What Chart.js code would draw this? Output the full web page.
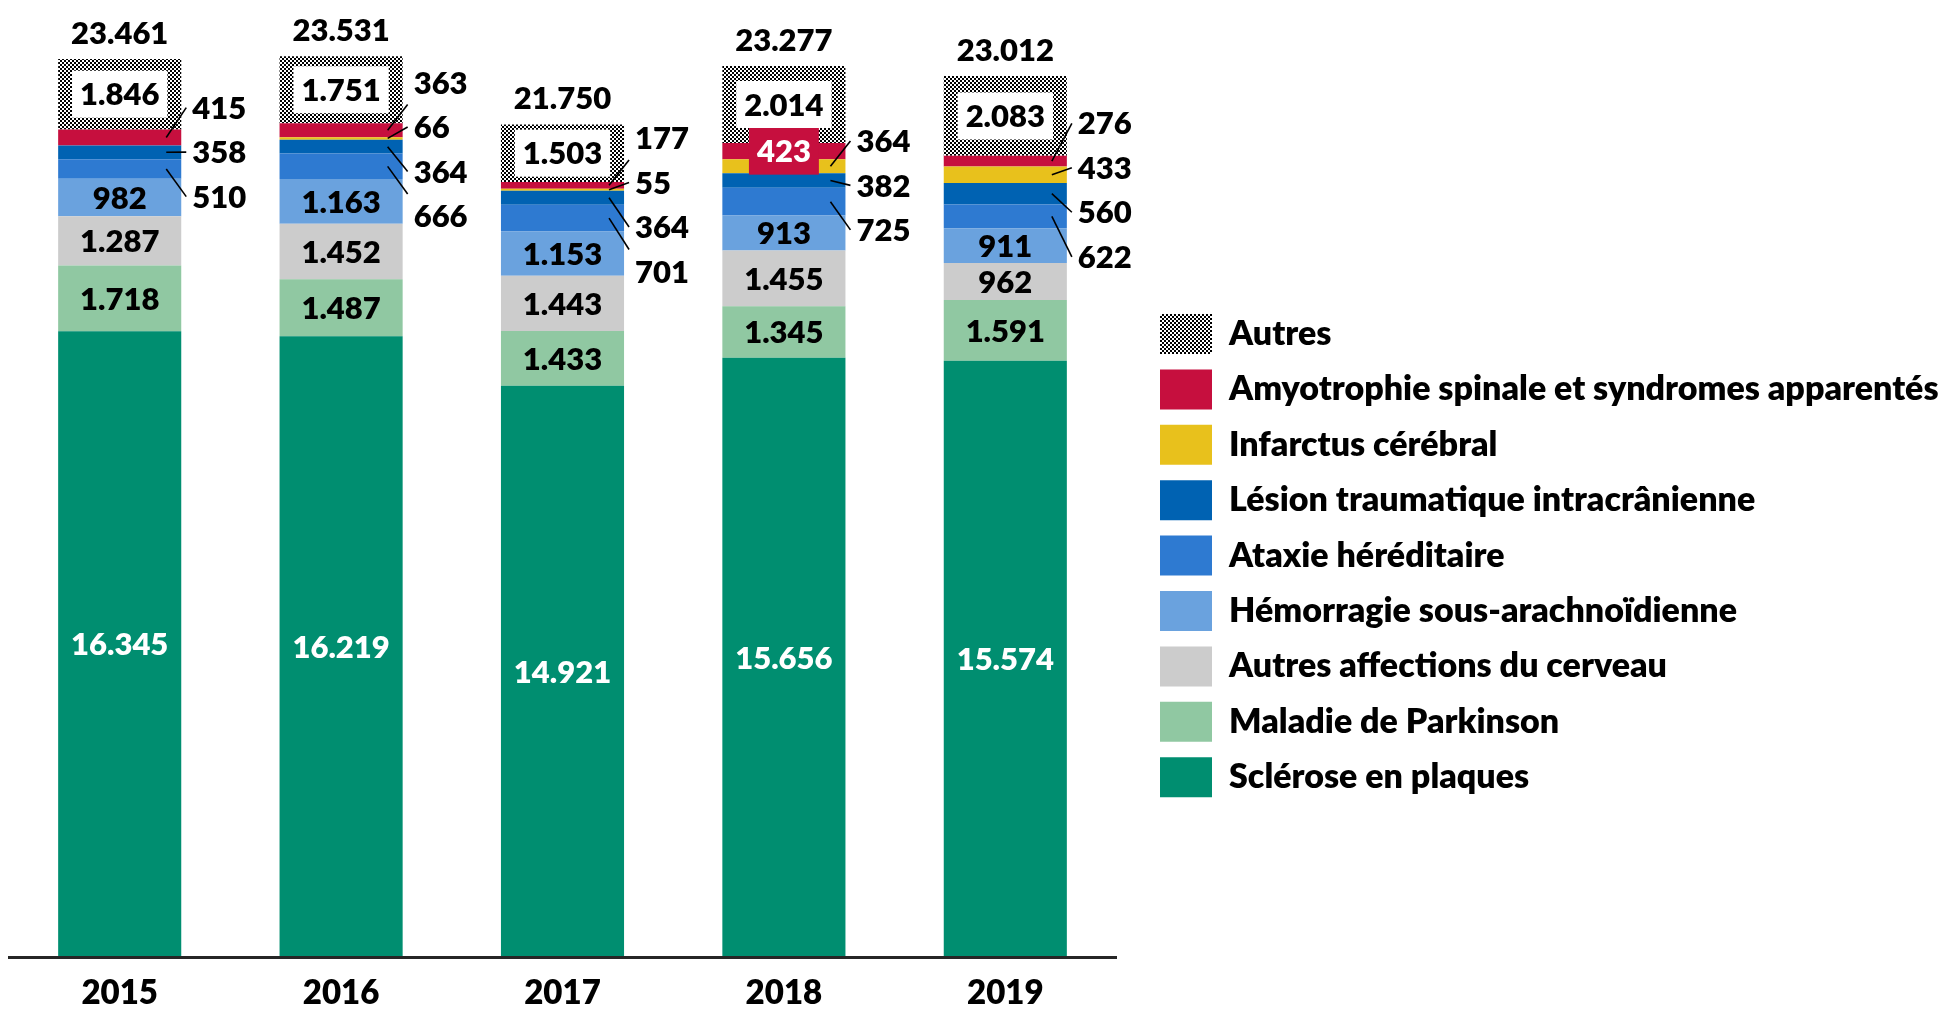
<!DOCTYPE html>
<html><head><meta charset="utf-8">
<script src="https://cdn.jsdelivr.net/npm/chart.js@4.4.1/dist/chart.umd.min.js"></script>
<style>html,body{margin:0;padding:0;background:#fff;overflow:hidden}#wrap{width:1949px;height:1009px}</style>
</head><body><div id="wrap"><canvas id="c" width="1949" height="1009"></canvas></div>
<script>
// ---- data ----
const years = ['2015', '2016', '2017', '2018', '2019'];
const sclerose = [16345, 16219, 14921, 15656, 15574];
const parkinson = [1718, 1487, 1433, 1345, 1591];
const autresAffections = [1287, 1452, 1443, 1455, 962];
const hemorragie = [982, 1163, 1153, 913, 911];
const ataxie = [510, 666, 701, 725, 622];
const lesion = [358, 364, 364, 382, 560];
const infarctus = [0, 66, 55, 364, 433];
const amyotrophie = [415, 363, 177, 423, 276];
const autres = [1846, 1751, 1503, 2014, 2083];
const seriesNames = ['Sclérose en plaques', 'Maladie de Parkinson', 'Autres affections du cerveau',
  'Hémorragie sous-arachnoïdienne', 'Ataxie héréditaire', 'Lésion traumatique intracrânienne',
  'Infarctus cérébral', 'Amyotrophie spinale et syndromes apparentés', 'Autres'];
const seriesValues = [sclerose, parkinson, autresAffections, hemorragie, ataxie, lesion, infarctus, amyotrophie, autres];
const yMax = 25000;

// ---- styles ----
const FONT = 'Lato';
const WEIGHT = 800;
const LBL_SIZE = 31, LEG_SIZE = 34, TICK_SIZE = 33;
const colors = ['#008E70', '#90C8A2', '#CCCCCC', '#6AA2DE', '#2E7AD1', '#0062B2', '#E8C11C', '#C60F3E', 'PATTERN'];
const labelModes = ['light', 'dark', 'dark', 'dark', 'out', 'out', 'out', 'out', 'boxed'];
const colourBoxed = [{ series: 'Amyotrophie spinale et syndromes apparentés', year: '2018' }];

function checker() {
  const c = document.createElement('canvas'); c.width = c.height = 4;
  const g = c.getContext('2d');
  g.fillStyle = '#fff'; g.fillRect(0, 0, 4, 4);
  g.fillStyle = '#000'; g.fillRect(0, 0, 2, 2); g.fillRect(2, 2, 2, 2);
  return g.createPattern(c, 'repeat');
}
function fmt(v) { return String(v).replace(/\B(?=(\d{3})+(?!\d))/g, '.'); }

const segLabels = {
  id: 'segLabels',
  afterDatasetsDraw(chart) {
    const ctx = chart.ctx;
    const dsets = chart.data.datasets;
    ctx.save();
    ctx.font = `${WEIGHT} ${LBL_SIZE}px ${FONT}`;
    ctx.textBaseline = 'alphabetic';
    const capOff = LBL_SIZE * 0.72 / 2;
    chart.data.labels.forEach((yr, j) => {
      let topY = Infinity, bx = 0, bw = 0, total = 0;
      const out = [], inner = [];
      dsets.forEach((d, i) => {
        const el = chart.getDatasetMeta(i).data[j];
        const p = el.getProps(['x', 'y', 'base', 'width'], true);
        bx = p.x; bw = p.width;
        const v = d.data[j];
        total += v;
        if (!v) return;
        const t = Math.min(p.y, p.base), b = Math.max(p.y, p.base);
        topY = Math.min(topY, t);
        let mode = labelModes[i];
        if (colourBoxed.some(e => e.series === d.label && e.year === yr)) mode = 'colorBox';
        const seg = { v, cy: (t + b) / 2, top: t, bottom: b, color: d.backgroundColor, mode };
        (mode === 'out' ? out : inner).push(seg);
      });
      const right = bx + bw / 2;
      // outside labels with leader lines
      out.reverse();
      if (out.length) {
        const et = Math.min(...out.map(s => s.top)), eb = Math.max(...out.map(s => s.bottom));
        const c = (et + eb) / 2 - 2;
        const n = out.length;
        out.forEach((s, k) => {
          const ly = c + (k - (n - 1) / 2) * 44.5;
          const d = s.cy - ly;
          const y2 = Math.abs(d) > 45 ? ly + Math.sign(d) * 22 : ly;
          ctx.beginPath();
          ctx.strokeStyle = '#000'; ctx.lineWidth = 1.6;
          ctx.moveTo(right - 15, s.cy); ctx.lineTo(right + 5, y2); ctx.stroke();
          ctx.fillStyle = '#000'; ctx.textAlign = 'left';
          ctx.fillText(fmt(s.v), right + 11, ly + capOff);
        });
      }
      // inside labels
      ctx.textAlign = 'center';
      inner.forEach(s => {
        const txt = fmt(s.v);
        const tw = ctx.measureText(txt).width;
        if (s.mode === 'boxed' || s.mode === 'colorBox') {
          ctx.fillStyle = s.mode === 'boxed' ? '#fff' : s.color;
          ctx.fillRect(bx - tw / 2 - 8, s.cy - 23.5, tw + 16, 47);
          ctx.fillStyle = s.mode === 'boxed' ? '#000' : '#fff';
        } else {
          ctx.fillStyle = s.mode === 'light' ? '#fff' : '#000';
        }
        ctx.fillText(txt, bx, s.cy + capOff);
      });
      // total
      ctx.fillStyle = '#000';
      ctx.fillText(fmt(total), bx, topY - 26.5 + capOff);
    });
    ctx.restore();
  }
};

function build() {
  const pattern = checker();
  const datasets = seriesNames.map((name, i) => ({
    label: name,
    data: seriesValues[i],
    backgroundColor: colors[i] === 'PATTERN' ? pattern : colors[i],
    borderWidth: 0,
    barPercentage: 0.556,
    categoryPercentage: 1
  }));
  // legend geometry
  const LEG_PAD = 15.4, LEG_BOX_W = 52, LEG_BOX_H = 40;
  const legendW = 1949 - 1144.6;
  const m = document.createElement('canvas').getContext('2d');
  m.font = `${WEIGHT} ${LEG_SIZE}px ${FONT}`;
  const maxText = Math.max(...seriesNames.map(s => m.measureText(s).width));
  const natural = LEG_PAD + LEG_BOX_W + LEG_SIZE / 2 + maxText + 10;
  const padRight = Math.max(0, legendW - natural);

  new Chart(document.getElementById('c'), {
    type: 'bar',
    data: { labels: years, datasets },
    plugins: [segLabels],
    options: {
      responsive: false,
      devicePixelRatio: 1,
      animation: false,
      layout: { padding: { left: 9, top: 0, right: padRight, bottom: 0 } },
      plugins: {
        tooltip: { enabled: false },
        legend: {
          position: 'right',
          align: 'start',
          reverse: true,
          maxWidth: legendW,
          title: { display: true, text: ' ', font: { size: 10, lineHeight: 1 }, padding: { top: 288.6, bottom: 0 } },
          labels: {
            boxWidth: LEG_BOX_W, boxHeight: LEG_BOX_H, padding: LEG_PAD, color: '#000',
            font: { family: FONT, weight: WEIGHT, size: LEG_SIZE }
          }
        }
      },
      scales: {
        x: {
          stacked: true,
          grid: { display: false, drawTicks: false },
          border: { display: true, color: '#262626', width: 3, z: 1 },
          ticks: { color: '#000', padding: 20, font: { family: FONT, weight: WEIGHT, size: TICK_SIZE, lineHeight: 1 } },
          afterFit(s) { s.height = 52; }
        },
        y: {
          stacked: true,
          position: 'right',
          min: 0, max: yMax,
          grid: { display: false, drawTicks: false },
          border: { display: false },
          ticks: { display: false },
          afterFit(s) { s.width = 28.6; }
        }
      }
    }
  });
}

const fl = document.fonts ? Promise.all([
  document.fonts.load(`${WEIGHT} ${LBL_SIZE}px ${FONT}`),
  document.fonts.load(`${WEIGHT} ${LEG_SIZE}px ${FONT}`),
  document.fonts.load(`${WEIGHT} ${TICK_SIZE}px ${FONT}`)
]).catch(() => {}) : Promise.resolve();
fl.then(build, build);
</script>
</body></html>
